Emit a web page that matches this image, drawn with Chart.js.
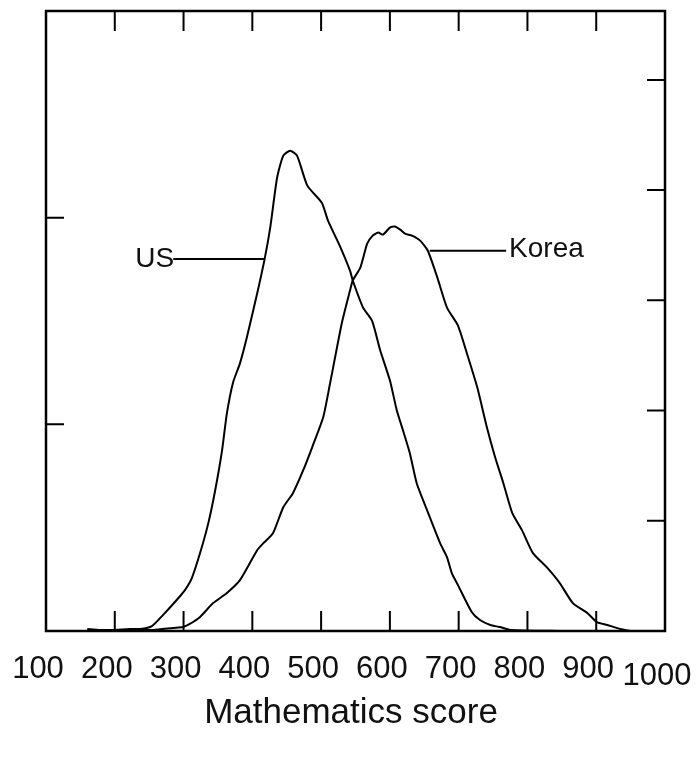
<!DOCTYPE html>
<html>
<head>
<meta charset="utf-8">
<title>Mathematics score</title>
<script src="https://cdn.jsdelivr.net/npm/chart.js@4.4.1/dist/chart.umd.min.js"></script>
<style>
  body { margin: 0; background: #fff; }
  #wrap { width: 699px; height: 760px; }
</style>
</head>
<body>
<div id="wrap"><canvas id="scoreChart" width="699" height="760"></canvas></div>
<script>
// Score distributions (x = score, y = density in left-axis units)
const usScores = [160, 178, 197, 222, 237, 254, 270, 290, 302, 312, 324, 336, 346, 356, 363, 372, 382, 392, 407, 418, 426, 436, 445, 455, 465, 480, 501, 510, 527, 542, 546, 561, 574, 586, 600, 610, 619, 629, 639, 654, 673, 683, 690, 699, 719, 731, 746, 760, 775, 852];
const usDensity = [0.01, 0.005, 0.005, 0.01, 0.01, 0.024, 0.077, 0.15, 0.198, 0.256, 0.377, 0.522, 0.681, 0.874, 1.053, 1.203, 1.295, 1.42, 1.633, 1.802, 1.952, 2.193, 2.30, 2.324, 2.30, 2.155, 2.072, 1.986, 1.865, 1.744, 1.696, 1.565, 1.502, 1.357, 1.213, 1.068, 0.971, 0.86, 0.715, 0.585, 0.425, 0.357, 0.28, 0.222, 0.092, 0.053, 0.029, 0.019, 0.005, 0];

const koreaScores = [218, 256, 285, 299, 309, 324, 343, 363, 382, 407, 416, 430, 445, 459, 474, 487, 503, 513, 530, 542, 546, 557, 567, 575, 583, 590, 600, 607, 615, 622, 632, 644, 655, 669, 683, 699, 712, 727, 741, 753, 765, 778, 792, 808, 828, 847, 866, 887, 901, 916, 935, 949];
const koreaDensity = [0.005, 0.005, 0.015, 0.019, 0.034, 0.068, 0.135, 0.184, 0.246, 0.391, 0.425, 0.473, 0.599, 0.667, 0.778, 0.889, 1.034, 1.198, 1.488, 1.647, 1.696, 1.758, 1.874, 1.913, 1.928, 1.918, 1.952, 1.957, 1.942, 1.923, 1.913, 1.889, 1.841, 1.71, 1.565, 1.478, 1.343, 1.179, 0.986, 0.841, 0.715, 0.57, 0.488, 0.377, 0.309, 0.232, 0.135, 0.087, 0.043, 0.029, 0.01, 0];

// Tick values
const xTicks = [100, 200, 300, 400, 500, 600, 700, 800, 900, 1000];
const leftTicks = [1, 2];
const rightTicks = [1, 2, 3, 4, 5];

// Curve labels: [text, line start score, line end score, height]
const seriesLabels = [
  ['US', 285, 418, 1.80],
  ['Korea', 769, 658, 1.84]
];

function toPoints(xs, ys) {
  return xs.map((v, i) => ({ x: v, y: ys[i] }));
}

// Frame, inward ticks, tick labels, axis title and curve labels
const framePlugin = {
  id: 'frame',
  afterDatasetsDraw(chart) {
    const { ctx, chartArea: a, scales } = chart;
    const x = scales.x, y = scales.y, y2 = scales.y2;
    ctx.save();
    ctx.strokeStyle = '#000';
    ctx.lineWidth = 2.5;
    ctx.strokeRect(a.left, a.top, a.right - a.left, a.bottom - a.top);

    ctx.lineWidth = 2;
    ctx.beginPath();
    xTicks.slice(1, -1).forEach(t => {
      const px = x.getPixelForValue(t);
      ctx.moveTo(px, a.top); ctx.lineTo(px, a.top + 20);
      ctx.moveTo(px, a.bottom); ctx.lineTo(px, a.bottom - 20);
    });
    leftTicks.forEach(t => {
      const py = y.getPixelForValue(t);
      ctx.moveTo(a.left, py); ctx.lineTo(a.left + 18, py);
    });
    rightTicks.forEach(t => {
      const py = y2.getPixelForValue(t);
      ctx.moveTo(a.right, py); ctx.lineTo(a.right - 18, py);
    });
    ctx.stroke();

    ctx.fillStyle = '#111';
    ctx.font = '31px "Liberation Sans", Arial, sans-serif';
    ctx.textAlign = 'center';
    ctx.textBaseline = 'middle';
    xTicks.forEach(t => {
      const px = x.getPixelForValue(t) - 8;
      ctx.fillText(String(t), px, t === 1000 ? a.bottom + 45 : a.bottom + 38);
    });

    ctx.font = '35px "Liberation Sans", Arial, sans-serif';
    ctx.fillText('Mathematics score', 351, a.bottom + 82);

    // curve labels with leader lines
    ctx.font = '28px "Liberation Sans", Arial, sans-serif';
    ctx.lineWidth = 2;
    seriesLabels.forEach(([text, from, to, h]) => {
      const x1 = x.getPixelForValue(from);
      const x2 = x.getPixelForValue(to);
      const py = y.getPixelForValue(h);
      ctx.beginPath();
      ctx.moveTo(x1, py); ctx.lineTo(x2, py);
      ctx.stroke();
      if (from < to) {
        ctx.textAlign = 'right';
        ctx.fillText(text, x1 + 1, py);
      } else {
        ctx.textAlign = 'left';
        ctx.fillText(text, x1 + 3, py - 1);
      }
    });
    ctx.restore();
  }
};

const scoreChart = new Chart(document.getElementById('scoreChart'), {
  type: 'line',
  data: {
    datasets: [
      {
        label: 'US',
        data: toPoints(usScores, usDensity),
        borderColor: '#000',
        borderWidth: 2,
        pointRadius: 0,
        tension: 0.2,
        yAxisID: 'y'
      },
      {
        label: 'Korea',
        data: toPoints(koreaScores, koreaDensity),
        borderColor: '#000',
        borderWidth: 2,
        pointRadius: 0,
        tension: 0.2,
        yAxisID: 'y'
      }
    ]
  },
  options: {
    responsive: false,
    animation: false,
    layout: { padding: { left: 46, right: 34, top: 11, bottom: 129 } },
    plugins: { legend: { display: false }, tooltip: { enabled: false } },
    scales: {
      x: { type: 'linear', min: 100, max: 1000, display: false },
      y: { min: 0, max: 3, display: false },
      y2: { position: 'right', min: 0, max: 5.625, display: false }
    }
  },
  plugins: [framePlugin]
});
</script>
</body>
</html>
